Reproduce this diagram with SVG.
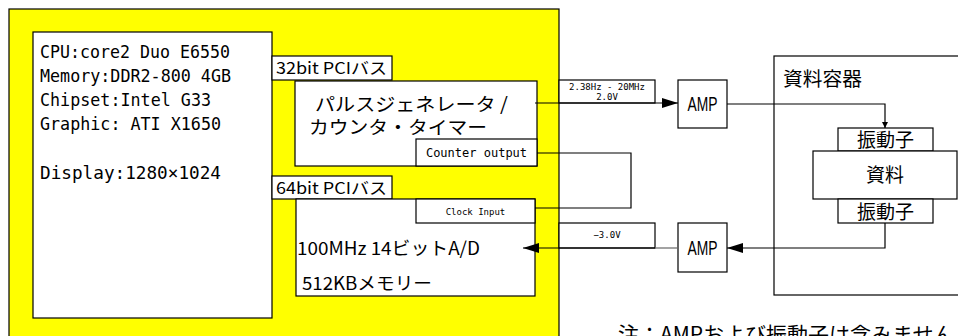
<svg xmlns="http://www.w3.org/2000/svg" width="958" height="336" viewBox="0 0 958 336">
<defs>
<style>
.box{fill:#fff;stroke:#000;stroke-width:1.2}
.ln{fill:none;stroke:#000;stroke-width:1.2}
.mono{font-family:"DejaVu Sans Mono","Liberation Mono","Noto Sans CJK JP",monospace;fill:#000}
.jp{font-family:"Noto Sans CJK JP","Liberation Sans",sans-serif;fill:#000}
.sans{font-family:"Liberation Sans","Noto Sans CJK JP",sans-serif;fill:#000}
</style>
<marker id="ab" viewBox="0 0 16 10" refX="16" refY="5" markerWidth="16" markerHeight="10" markerUnits="userSpaceOnUse" orient="auto"><path d="M0,0 L16,5 L0,10 Z" fill="#000"/></marker>
<marker id="as" viewBox="0 0 8 8" refX="8" refY="4" markerWidth="6" markerHeight="6" markerUnits="userSpaceOnUse" orient="auto"><path d="M0,0 L8,4 L0,8 Z" fill="#000"/></marker>
</defs>
<rect x="0" y="0" width="958" height="336" fill="#fff"/>

<g id="pc">
<rect x="9" y="9" width="550" height="340" fill="#ffff00" stroke="#000" stroke-width="1.2"/>
</g>

<g id="cpu">
<rect class="box" x="33" y="32" width="239" height="286"/>
<text class="mono" font-size="17" x="40" y="58" textLength="190" lengthAdjust="spacingAndGlyphs">CPU:core2 Duo E6550</text>
<text class="mono" font-size="17" x="40" y="82" textLength="191" lengthAdjust="spacingAndGlyphs">Memory:DDR2-800 4GB</text>
<text class="mono" font-size="17" x="40" y="106" textLength="171" lengthAdjust="spacingAndGlyphs">Chipset:Intel G33</text>
<text class="mono" font-size="17" x="40" y="130" textLength="181" lengthAdjust="spacingAndGlyphs">Graphic: ATI X1650</text>
<text class="mono" font-size="17" x="40" y="179" textLength="181" lengthAdjust="spacingAndGlyphs">Display:1280×1024</text>
</g>

<g id="bus32">
<rect class="box" x="272" y="56" width="120" height="24"/>
<text class="jp" font-size="16" x="276" y="74" textLength="111" lengthAdjust="spacingAndGlyphs">32bit PCIバス</text>
</g>

<g id="pulse">
<rect class="box" x="295" y="81" width="242" height="85"/>
<text class="jp" font-size="18.5" x="315" y="111" textLength="193" lengthAdjust="spacingAndGlyphs">パルスジェネレータ /</text>
<text class="jp" font-size="18.5" x="309" y="134" textLength="178" lengthAdjust="spacingAndGlyphs">カウンタ・タイマー</text>
</g>

<g id="counter">
<rect class="box" x="416" y="139" width="121" height="27"/>
<text class="mono" font-size="12" x="476.5" y="157" text-anchor="middle">Counter output</text>
</g>

<g id="bus64">
<rect class="box" x="272" y="176" width="120" height="23"/>
<text class="jp" font-size="16" x="276" y="194" textLength="111" lengthAdjust="spacingAndGlyphs">64bit PCIバス</text>
</g>

<g id="adc">
<rect class="box" x="296" y="199" width="239" height="97"/>
<text class="jp" font-size="18" x="297" y="255" textLength="183" lengthAdjust="spacingAndGlyphs">100MHz 14ビットA/D</text>
<text class="jp" font-size="18" x="302" y="290" textLength="130" lengthAdjust="spacingAndGlyphs">512KBメモリー</text>
</g>

<g id="clock">
<rect class="box" x="416" y="199" width="119" height="24"/>
<text class="mono" font-size="9" x="475.5" y="215" text-anchor="middle">Clock Input</text>
</g>

<g id="label-out">
<rect class="box" x="559" y="80" width="96" height="23"/>
<text class="mono" font-size="9" x="607" y="90" text-anchor="middle">2.38Hz - 20MHz</text>
<text class="mono" font-size="9" x="607" y="100" text-anchor="middle">2.0V</text>
</g>

<g id="label-in">
<rect class="box" x="559" y="223" width="96" height="25"/>
<text class="mono" font-size="9" x="607" y="238" text-anchor="middle">−3.0V</text>
</g>

<g id="amp1">
<rect class="box" x="678" y="80" width="49" height="48"/>
<text class="sans" font-size="20" x="702.5" y="111" text-anchor="middle" textLength="30" lengthAdjust="spacingAndGlyphs">AMP</text>
</g>

<g id="amp2">
<rect class="box" x="678" y="223" width="49" height="49"/>
<text class="sans" font-size="20" x="702.5" y="255" text-anchor="middle" textLength="30" lengthAdjust="spacingAndGlyphs">AMP</text>
</g>

<g id="container">
<rect x="774" y="56" width="200" height="239" fill="none" stroke="#000" stroke-width="1.2"/>
<text class="jp" font-size="19" x="783" y="86" textLength="79" lengthAdjust="spacingAndGlyphs">資料容器</text>
</g>

<g id="vib-top">
<rect class="box" x="838" y="128" width="95" height="23"/>
<text class="jp" font-size="19" x="885.5" y="147" text-anchor="middle">振動子</text>
</g>

<g id="sample">
<rect class="box" x="813" y="151" width="144" height="48"/>
<text class="jp" font-size="19" x="885" y="182" text-anchor="middle">資料</text>
</g>

<g id="vib-bottom">
<rect class="box" x="838" y="199" width="95" height="24"/>
<text class="jp" font-size="19" x="885.5" y="219" text-anchor="middle">振動子</text>
</g>

<g id="connectors">
<path class="ln" d="M535,103 H678" marker-end="url(#ab)"/>
<path class="ln" d="M727,104 H885 V128" marker-end="url(#as)"/>
<path class="ln" d="M885,223 V248 H727" marker-end="url(#ab)"/>
<path fill="none" stroke="#666" stroke-width="1.2" d="M678,248 H655"/>
<path class="ln" d="M655,248 H523" marker-end="url(#ab)"/>
<path class="ln" d="M537,153 H631 V208 H535"/>
</g>

<g id="note">
<text class="jp" font-size="21" x="618" y="342">注：AMPおよび振動子は含みません</text>
</g>
</svg>
